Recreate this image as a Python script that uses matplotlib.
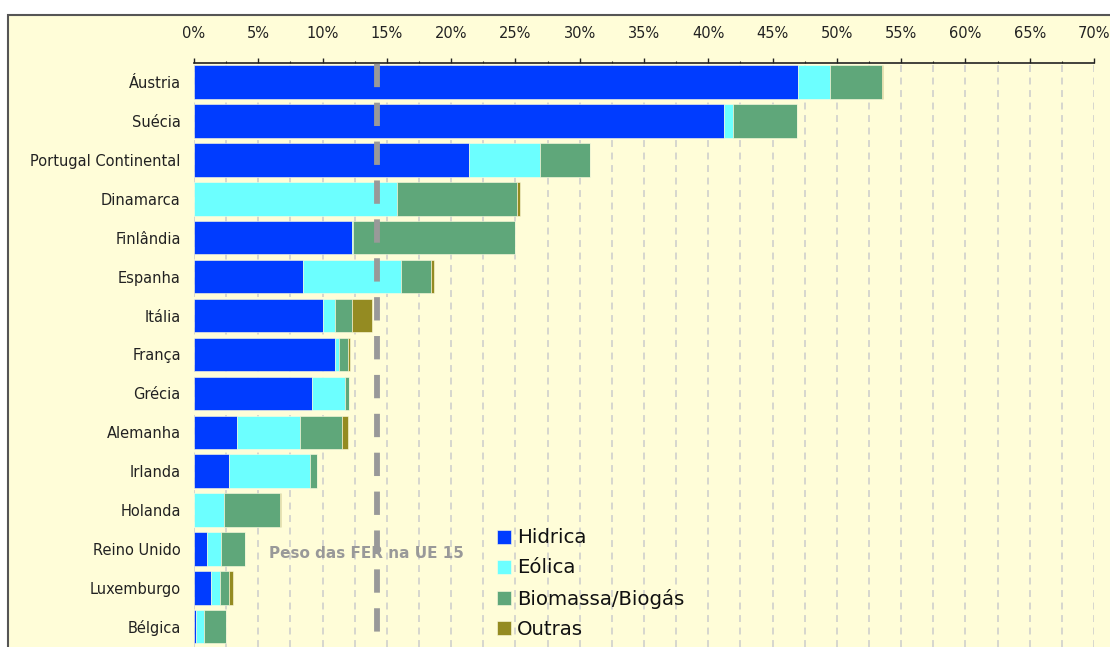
import matplotlib.pyplot as plt
import numpy as np
from matplotlib.patches import Rectangle
from matplotlib.ticker import MultipleLocator, FuncFormatter

plt.rcParams['font.family'] = ['DejaVu Sans']
plt.rcParams['lines.scale_dashes'] = False

# Renewable energy share by source (%)
countries = ['Áustria', 'Suécia', 'Portugal Continental', 'Dinamarca', 'Finlândia',
             'Espanha', 'Itália', 'França', 'Grécia', 'Alemanha', 'Irlanda',
             'Holanda', 'Reino Unido', 'Luxemburgo', 'Bélgica']
hidrica = [46.95, 41.2, 21.4, 0.0, 12.3, 8.5, 10.06, 10.96, 9.15, 3.32, 2.75, 0.0, 0.99, 1.32, 0.18]
eolica = [2.55, 0.7, 5.5, 15.75, 0.1, 7.6, 0.9, 0.32, 2.59, 4.92, 6.27, 2.31, 1.11, 0.67, 0.57]
biomassa = [4.0, 5.0, 3.9, 9.4, 12.6, 2.35, 1.33, 0.67, 0.34, 3.27, 0.58, 4.38, 1.9, 0.77, 1.76]
outras = [0.1, 0.0, 0.0, 0.2, 0.0, 0.23, 1.58, 0.21, 0.0, 0.44, 0.0, 0.06, 0.0, 0.31, 0.0]
ue15 = 14.2

series = [('Hidrica', hidrica, '#003cff'),
          ('Eólica', eolica, '#6cffff'),
          ('Biomassa/Biogás', biomassa, '#5fa77a'),
          ('Outras', outras, '#948b22')]

bg = '#fffdd8'
W, H = 1110, 647
fig = plt.figure(figsize=(W / 100, H / 100), dpi=100, facecolor='white')

# frame around the chart area (only top and left edges are inside the crop)
frame = Rectangle((8 / W, -0.2), 1.2, 1.2 - 15 / H, transform=fig.transFigure,
                  facecolor=bg, edgecolor='#555555', linewidth=1.5, zorder=-5)
fig.patches.append(frame)

ax = fig.add_axes([194 / W, 0.0, 900 / W, 584 / H])
ax.set_zorder(2)
ax.set_facecolor('none')

y = np.arange(len(countries))
left = np.zeros(len(countries))
for name, vals, col in series:
    ax.barh(y, vals, left=left, height=0.86, color=col, edgecolor='#fffde0',
            linewidth=0.4, label=name, zorder=2)
    left += np.array(vals)

# EU15 reference line
ax.axvline(ue15, color='#999999', linewidth=4.2, linestyle=(16.9, (16.8, 11.2)), zorder=3)
ax.text(5.8, 12.11, 'Peso das FER na UE 15', color='#999999', fontsize=11,
        fontweight='bold', va='center', ha='left', zorder=4)

ax.set_xlim(0, 70)
ax.set_ylim(14.52, -0.49)
ax.xaxis.tick_top()
ax.xaxis.set_major_locator(MultipleLocator(5))
ax.xaxis.set_minor_locator(MultipleLocator(2.5))
ax.xaxis.set_major_formatter(FuncFormatter(lambda v, p: f'{v:.0f}%'))
ax.tick_params(axis='x', which='major', direction='out', length=3.6, width=1,
               pad=12, labelsize=10.5, colors='#222222')
ax.tick_params(axis='x', which='minor', direction='out', length=1.5, width=0.8, colors='#222222')
ax.set_yticks(y)
ax.set_yticklabels(countries)
ax.tick_params(axis='y', length=0, pad=9.5, labelsize=10.5, colors='#222222')
ax.grid(True, axis='x', which='both', color='#cccccc', linestyle=(0, (5, 4)),
        linewidth=1.1, zorder=1)
ax.set_axisbelow(True)
for s in ['left', 'right', 'bottom']:
    ax.spines[s].set_visible(False)
ax.spines['top'].set_linewidth(1.2)
ax.spines['top'].set_color('#222222')

leg = ax.legend(loc='upper left', bbox_to_anchor=(0.3367, 0.203), frameon=False,
                fontsize=14.2, handlelength=0.72, handleheight=0.72, handletextpad=0.3,
                labelspacing=0.56, borderpad=0, borderaxespad=0)
for t in leg.get_texts():
    t.set_color('#111111')

fig.savefig('out.png', dpi=100, facecolor='white')
